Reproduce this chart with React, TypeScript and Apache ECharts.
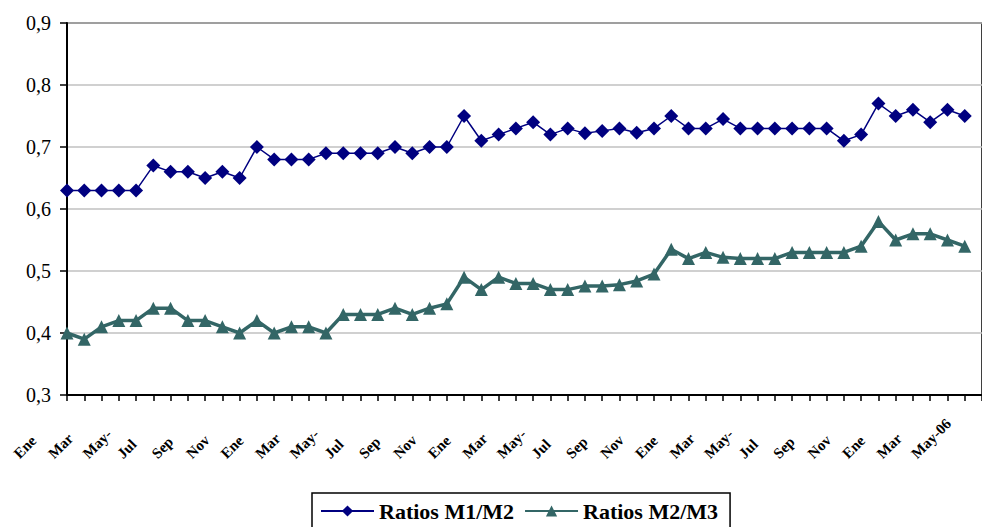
import React, { useEffect, useRef } from 'react';
import * as echarts from 'echarts';

const categories = [
  'Ene-02', 'Feb-02', 'Mar-02', 'Abr-02', 'May-02', 'Jun-02', 'Jul-02', 'Ago-02', 'Sep-02', 'Oct-02', 'Nov-02', 'Dic-02',
  'Ene-03', 'Feb-03', 'Mar-03', 'Abr-03', 'May-03', 'Jun-03', 'Jul-03', 'Ago-03', 'Sep-03', 'Oct-03', 'Nov-03', 'Dic-03',
  'Ene-04', 'Feb-04', 'Mar-04', 'Abr-04', 'May-04', 'Jun-04', 'Jul-04', 'Ago-04', 'Sep-04', 'Oct-04', 'Nov-04', 'Dic-04',
  'Ene-05', 'Feb-05', 'Mar-05', 'Abr-05', 'May-05', 'Jun-05', 'Jul-05', 'Ago-05', 'Sep-05', 'Oct-05', 'Nov-05', 'Dic-05',
  'Ene-06', 'Feb-06', 'Mar-06', 'Abr-06', 'May-06', 'Jun-06',
];

const tickLabels = [
  'Ene', 'Mar', 'May-', 'Jul', 'Sep', 'Nov',
  'Ene', 'Mar', 'May-', 'Jul', 'Sep', 'Nov',
  'Ene', 'Mar', 'May-', 'Jul', 'Sep', 'Nov',
  'Ene', 'Mar', 'May-', 'Jul', 'Sep', 'Nov',
  'Ene', 'Mar', 'May-06',
];

const ratioM1M2 = [
  0.63, 0.63, 0.63, 0.63, 0.63, 0.67, 0.66, 0.66, 0.65, 0.66, 0.65, 0.70,
  0.68, 0.68, 0.68, 0.69, 0.69, 0.69, 0.69, 0.70, 0.69, 0.70, 0.70, 0.75,
  0.71, 0.72, 0.73, 0.74, 0.72, 0.73, 0.722, 0.726, 0.73, 0.723, 0.73, 0.75,
  0.73, 0.73, 0.745, 0.73, 0.73, 0.73, 0.73, 0.73, 0.73, 0.71, 0.72, 0.77,
  0.75, 0.76, 0.74, 0.76, 0.75, null,
];

const ratioM2M3 = [
  0.40, 0.39, 0.41, 0.42, 0.42, 0.44, 0.44, 0.42, 0.42, 0.41, 0.40, 0.42,
  0.40, 0.41, 0.41, 0.40, 0.43, 0.43, 0.43, 0.44, 0.43, 0.44, 0.447, 0.49,
  0.47, 0.49, 0.48, 0.48, 0.47, 0.47, 0.476, 0.476, 0.478, 0.484, 0.495, 0.535,
  0.52, 0.53, 0.522, 0.52, 0.52, 0.52, 0.53, 0.53, 0.53, 0.53, 0.54, 0.58,
  0.55, 0.56, 0.56, 0.55, 0.54, null,
];

const serif = "'Liberation Serif', 'Times New Roman', serif";

export default function App() {
  const ref = useRef<HTMLDivElement>(null);

  useEffect(() => {
    if (!ref.current) return;
    const chart = echarts.init(ref.current, null, { renderer: 'svg' });
    chart.setOption({
      animation: false,
      backgroundColor: '#ffffff',
      grid: {
        left: 67,
        top: 23,
        right: -7,
        bottom: 132,
        show: true,
        borderColor: '#000',
        borderWidth: 1.5,
        backgroundColor: 'transparent',
      },
      legend: {
        left: 312,
        top: 493,
        borderColor: '#000',
        borderWidth: 1.5,
        padding: [7, 12, 7, 8],
        itemGap: 10,
        itemWidth: 53,
        itemHeight: 14,
        textStyle: { fontFamily: serif, fontSize: 22, fontWeight: 'bold', color: '#000' },
        data: ['Ratios M1/M2', 'Ratios M2/M3'],
      },
      xAxis: {
        type: 'category',
        data: categories,
        boundaryGap: false,
        axisLine: { lineStyle: { color: '#000', width: 2 } },
        axisTick: { show: true, interval: 0, length: 6, lineStyle: { color: '#000', width: 1.5 } },
        axisLabel: {
          interval: 1,
          rotate: 45,
          margin: 10,
          width: 72,
          overflow: 'none',
          formatter: (_v: string, i: number) => {
            const t = i % 2 === 0 ? tickLabels[i / 2] : undefined;
            return t ? `{a|${t}}` : '';
          },
          rich: {
            a: { align: 'left', fontFamily: serif, fontSize: 15, fontWeight: 'bold', color: '#000' },
          },
        },
        splitLine: { show: false },
      },
      yAxis: {
        type: 'value',
        min: 0.3,
        max: 0.9,
        interval: 0.1,
        axisLine: { show: true, lineStyle: { color: '#000', width: 2 } },
        axisTick: { show: true, length: 7, lineStyle: { color: '#000', width: 1.5 } },
        axisLabel: {
          formatter: (v: number) => v.toFixed(1).replace('.', ','),
          fontFamily: serif,
          fontSize: 20,
          color: '#000',
          margin: 16,
        },
        splitLine: { lineStyle: { color: '#c0c0c0', width: 1.5 } },
      },
      series: [
        {
          name: 'Ratios M1/M2',
          type: 'line',
          data: ratioM1M2,
          symbol: 'diamond',
          symbolSize: 14,
          showAllSymbol: true,
          itemStyle: { color: '#000080' },
          lineStyle: { color: '#000080', width: 1.5 },
          z: 3,
        },
        {
          name: 'Ratios M2/M3',
          type: 'line',
          data: ratioM2M3,
          symbol: 'triangle',
          symbolSize: 13,
          showAllSymbol: true,
          itemStyle: { color: '#336666' },
          lineStyle: { color: '#336666', width: 3.5 },
          z: 2,
        },
      ],
    });
    return () => chart.dispose();
  }, []);

  return (
    <div
      ref={ref}
      style={{ position: 'absolute', left: 0, top: 0, width: 982, height: 527 }}
    />
  );
}
